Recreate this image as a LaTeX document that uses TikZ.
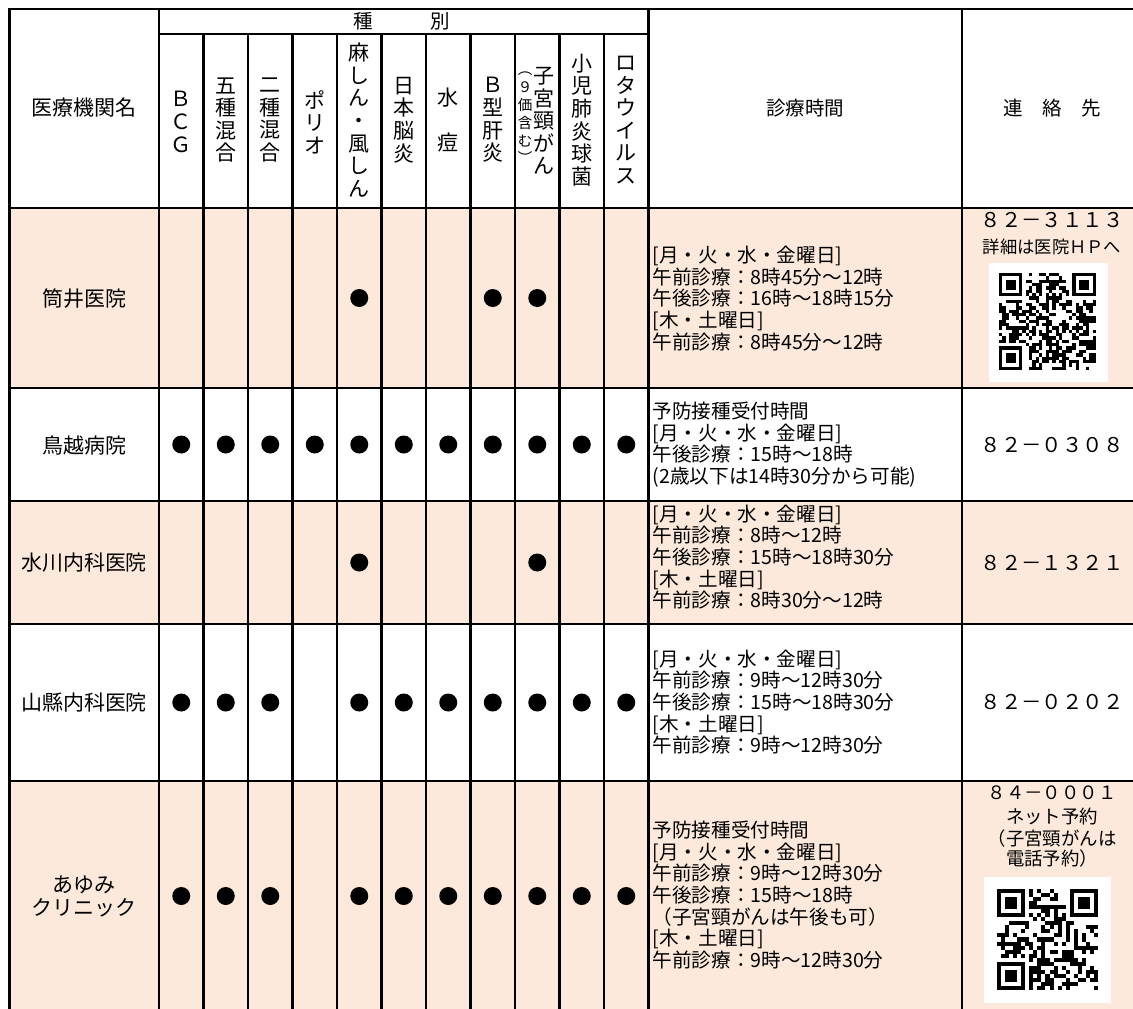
\documentclass[tikz,border=0pt]{standalone}
\usepackage{fontspec}
\setmainfont{Noto Sans CJK JP}
\definecolor{peach}{HTML}{FCE9DB}
\newcommand\qrfinders[1]{%
  \fill[white] (0,0) rectangle (8,8);
  \fill[white] ({#1-8},0) rectangle (#1,8);
  \fill[white] (0,{#1-8}) rectangle (8,#1);
  \foreach \fx/\fy in {0/0,#1-7/0,0/#1-7}{
    \fill[black] (\fx,\fy) rectangle ++(7,7);
    \fill[white] ({\fx+1},{\fy+1}) rectangle ++(5,5);
    \fill[black] ({\fx+2},{\fy+2}) rectangle ++(3,3);
  }%
  \pgfmathtruncatemacro\qrlast{#1-9}%
  \foreach \k in {8,...,\qrlast}{
    \pgfmathtruncatemacro\qrp{mod(\k,2)}
    \ifnum\qrp=0 \fill[black] (\k,6) rectangle ++(1,1); \fill[black] (6,\k) rectangle ++(1,1);
    \else \fill[white] (\k,6) rectangle ++(1,1); \fill[white] (6,\k) rectangle ++(1,1); \fi
  }%
}
\newcommand\qrmodules[2]{% n, seed
  \pgfmathsetseed{#2}%
  \pgfmathtruncatemacro\qrmax{#1-1}%
  \foreach \i in {0,...,\qrmax}{\foreach \j in {0,...,\qrmax}{%
    \pgfmathrandominteger{\qrr}{0}{1}%
    \ifnum\qrr=1 \fill[black] (\i,\j) rectangle ++(1,1);\fi}}%
}
\begin{document}
\begin{tikzpicture}[x=1pt,y=-1pt,
  gridline/.style={line width=2.2pt,black},
  namecell/.style={inner sep=0pt,align=center,font=\fontsize{21}{23}\selectfont},
  headcell/.style={inner sep=0pt,align=center,font=\fontsize{19.5}{22}\selectfont},
  vhead/.style={inner sep=0pt,align=center,font=\fontsize{21}{22.6}\selectfont},
  vsmall/.style={inner sep=0pt,align=center,font=\fontsize{14.5}{17.8}\selectfont},
  times/.style={inner sep=0pt,anchor=west,align=left,font=\fontsize{19.6}{21.7}\selectfont},
  phone/.style={inner sep=0pt,font=\fontsize{20.4}{22}\selectfont},
  note/.style={inner sep=0pt,font=\fontsize{17.3}{20}\selectfont},
  note5/.style={inner sep=0pt,font=\fontsize{18.4}{21}\selectfont},
  vdot/.style={circle,fill=black,inner sep=0pt,minimum size=18pt}]
\useasboundingbox (0,0) rectangle (1133,1009);
\begin{scope}
\clip (0,0) rectangle (1133,1009);
% row fills
\fill[peach] (9.5,208) rectangle (1142,388);
\fill[peach] (9.5,501) rectangle (1142,624);
\fill[peach] (9.5,781) rectangle (1142,1011);
\fill[white] (989,263) rectangle (1108,382);
\fill[white] (984,877) rectangle (1111,1003);
% grid
\draw[gridline] (9.5,9) rectangle (1142,1011);
\foreach \yy in {208,388,501,624,781} \draw[gridline] (9.5,\yy) -- (1142,\yy);
\draw[gridline] (159,34) -- (648.5,34);
\foreach \xx in {159,648.5,962} \draw[gridline] (\xx,9) -- (\xx,1011);
\foreach \xx in {203.5,248,292.5,337,381.5,426,470.5,515,559.5,604} \draw[gridline] (\xx,34) -- (\xx,1011);
\end{scope}
% QR codes
\begin{scope}[shift={(999,273)},x=3.34pt,y=-3.34pt]
  \qrmodules{29}{4711}
  \qrfinders{29}
\end{scope}
\begin{scope}[shift={(997,889)},x=4.04pt,y=-4.04pt]
  \qrmodules{25}{9137}
  \qrfinders{25}
\end{scope}
% header
\node[namecell] (hname) at (84,108) {医療機関名};
\node[headcell] (hkind1) at (363,21) {種};
\node[headcell] (hkind2) at (440,21) {別};
\node[headcell] (htime) at (805,108) {診療時間};
\node[headcell] (hcontact) at (1052,108) {連　絡　先};
\node[vhead] (v1) at (181.25,122) {Ｂ\\Ｃ\\Ｇ};
\node[vhead] (v2) at (225.75,120) {五\\種\\混\\合};
\node[vhead] (v3) at (270.25,120) {二\\種\\混\\合};
\node[vhead] (v4) at (314.75,122) {ポ\\リ\\オ};
\node[vhead] (v5) at (359.25,120) {麻\\し\\ん\\・\\風\\し\\ん};
\node[vhead] (v6) at (403.75,120) {日\\本\\脳\\炎};
\node[vhead] (v7) at (448.25,120) {水\\[22.6pt]痘};
\node[vhead] (v8) at (492.75,120) {Ｂ\\型\\肝\\炎};
\node[vhead] (v9) at (544,121) {子\\宮\\頸\\が\\ん};
\node[vsmall] (v9s) at (525,118) {︵\\９\\価\\含\\む\\︶};
\node[vhead] (v10) at (581.75,120) {小\\児\\肺\\炎\\球\\菌};
\node[vhead] (v11) at (626.25,120) {ロ\\タ\\ウ\\イ\\ル\\ス};
% names
\node[namecell] (n1) at (84,299) {筒井医院};
\node[namecell] (n2) at (84,445) {鳥越病院};
\node[namecell] (n3) at (84,563) {水川内科医院};
\node[namecell] (n4) at (84,703) {山縣内科医院};
\node[namecell] (n5) at (84,896) {あゆみ\\クリニック};
% dots row 1
\node[vdot] (d1-5) at (359.25,298) {};
\node[vdot] (d1-8) at (492.75,298) {};
\node[vdot] (d1-9) at (537.25,298) {};
% dots row 2
\foreach \c in {1,...,11} \node[vdot] (d2-\c) at ({159+44.5*(\c-0.5)},444.5) {};
% dots row 3
\node[vdot] (d3-5) at (359.25,562.5) {};
\node[vdot] (d3-9) at (537.25,562.5) {};
% dots rows 4 and 5
\foreach \c in {1,2,3,5,6,7,8,9,10,11} {
  \node[vdot] (d4-\c) at ({159+44.5*(\c-0.5)},702.5) {};
  \node[vdot] (d5-\c) at ({159+44.5*(\c-0.5)},896) {};
}
% times
\node[times] (t1) at (652.5,298.5) {{[}月・火・水・金曜日{]}\\午前診療：8時45分～12時\\午後診療：16時～18時15分\\{[}木・土曜日{]}\\午前診療：8時45分～12時};
\node[times] (t2) at (652.5,444.5) {予防接種受付時間\\{[}月・火・水・金曜日{]}\\午後診療：15時～18時\\(2歳以下は14時30分から可能)};
\node[times] (t3) at (652.5,557) {{[}月・火・水・金曜日{]}\\午前診療：8時～12時\\午後診療：15時～18時30分\\{[}木・土曜日{]}\\午前診療：8時30分～12時};
\node[times] (t4) at (652.5,702) {{[}月・火・水・金曜日{]}\\午前診療：9時～12時30分\\午後診療：15時～18時30分\\{[}木・土曜日{]}\\午前診療：9時～12時30分};
\node[times] (t5) at (652.5,895) {予防接種受付時間\\{[}月・火・水・金曜日{]}\\午前診療：9時～12時30分\\午後診療：15時～18時\\（子宮頸がんは午後も可）\\{[}木・土曜日{]}\\午前診療：9時～12時30分};
% contacts
\node[phone] (p1) at (1052,220) {８２－３１１３};
\node[note] (p1n) at (1052,247) {詳細は医院ＨＰへ};
\node[phone] (p2) at (1052,445) {８２－０３０８};
\node[phone] (p3) at (1052,563) {８２－１３２１};
\node[phone] (p4) at (1052,702) {８２－０２０２};
\node[note5] (p5) at (1052,793) {８４－０００１};
\node[note5] (p5a) at (1052,817) {ネット予約};
\node[note5] (p5b) at (1052,838) {（子宮頸がんは};
\node[note5] (p5c) at (1052,858) {電話予約）};
\end{tikzpicture}
\end{document}
